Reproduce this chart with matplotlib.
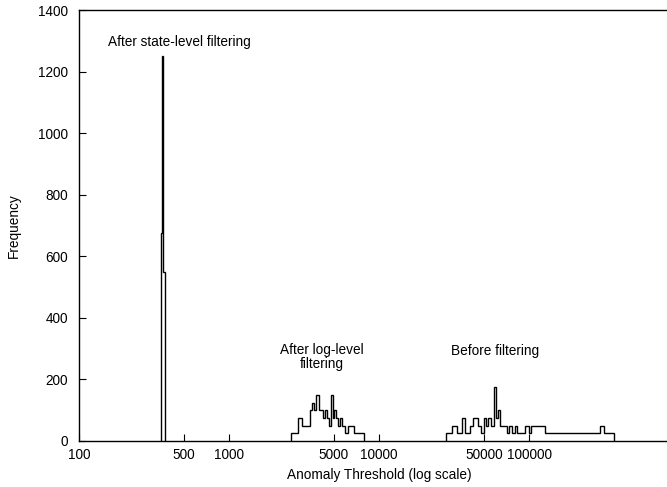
import matplotlib
matplotlib.use('Agg')
import matplotlib.pyplot as plt
from matplotlib.ticker import FixedLocator, NullLocator, FixedFormatter

plt.rcParams['font.family'] = ['Liberation Sans', 'DejaVu Sans']

# Histogramas (bordes de los bins en umbral, frecuencias)
state_edges = [350, 359, 365, 372]
state_counts = [675, 1250, 550]

log_edges = [2590, 2862, 3066, 3467, 3575, 3687, 3802, 3981, 4233, 4365, 4501,
             4642, 4786, 4935, 5050, 5168, 5329, 5495, 5667, 5933, 6215, 6813, 7943]
log_counts = [25, 75, 50, 100, 125, 100, 150, 100, 75, 100, 75,
              50, 150, 75, 100, 75, 50, 75, 50, 25, 50, 25]

before_edges = [27970, 30670, 33113, 35760, 37154, 40434, 42330, 45709, 47863,
                50119, 51680, 53290, 55800, 58884, 60720, 62130, 64090, 71370,
                74130, 77000, 80050, 83180, 94030, 100000, 102330, 127870,
                297400, 316230, 368700]
before_counts = [25, 50, 25, 75, 25, 50, 75, 50, 25, 75, 50, 75, 50, 175, 75,
                 100, 50, 25, 50, 25, 50, 25, 50, 25, 50, 25, 50, 25]

xticks = [100, 500, 1000, 5000, 10000, 50000, 100000]
xtick_labels = ['100', '500', '1000', '5000', '10000', '50000', '100000']
yticks = [0, 200, 400, 600, 800, 1000, 1200, 1400]

fs = 9.8

fig = plt.figure(figsize=(6.67, 4.87), dpi=100)
# el eje derecho queda fuera de la imagen (recortado en el original)
ax = fig.add_axes([79 / 667, 46 / 487, 600 / 667, 431 / 487])

for edges, counts in [(state_edges, state_counts), (log_edges, log_counts),
                      (before_edges, before_counts)]:
    ax.stairs(counts, edges, color='black', linewidth=1.0, baseline=0)

ax.set_xscale('log')
ax.set_xlim(100, 1e6)
ax.set_ylim(0, 1400)

ax.xaxis.set_major_locator(FixedLocator(xticks))
ax.xaxis.set_major_formatter(FixedFormatter(xtick_labels))
ax.xaxis.set_minor_locator(NullLocator())
ax.set_yticks(yticks)

ax.tick_params(direction='in', length=5, width=0.8, labelsize=fs, colors='black')
ax.tick_params(axis='x', pad=5)
ax.tick_params(axis='y', pad=8)

ax.spines['right'].set_visible(False)
for s in ['left', 'bottom', 'top']:
    ax.spines[s].set_linewidth(1.0)

ax.set_xlabel('Anomaly Threshold (log scale)', fontsize=fs, labelpad=4)
ax.set_ylabel('Frequency', fontsize=fs, labelpad=12)

ax.text(470, 1295, 'After state-level filtering', fontsize=fs, ha='center', va='center')
ax.text(4150, 272, 'After log-level\nfiltering', fontsize=fs, ha='center', va='center',
        linespacing=1.0)
ax.text(59800, 292, 'Before filtering', fontsize=fs, ha='center', va='center')

fig.savefig('out.png', dpi=100)
